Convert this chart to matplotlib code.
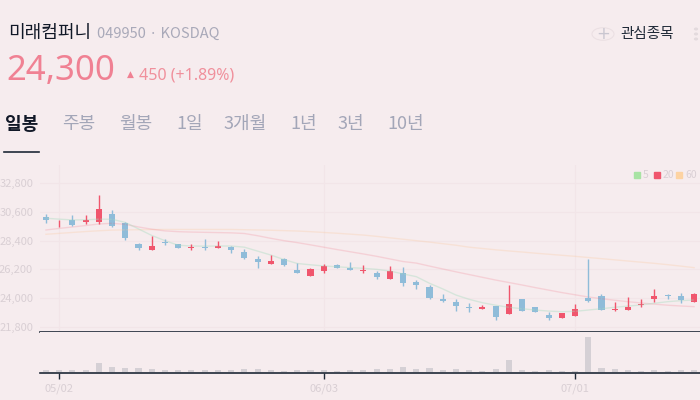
import matplotlib.pyplot as plt
from matplotlib.patches import Circle, Rectangle

plt.rcParams['font.family'] = ['Noto Sans CJK KR', 'DejaVu Sans']

# daily candles, 50 sessions
opens = [30200, 29800, 30010, 29860, 29860, 30450, 29750, 28140, 27680, 28300,
         28140, 27870, 27920, 27830, 27910, 27530, 27020, 26610, 27020, 26170,
         25710, 26070, 26530, 26330, 26070, 25920, 25460, 25920, 25210, 24850,
         23920, 23700, 23280, 23180, 23390, 22800, 23920, 23310, 22700, 22440,
         22620, 24000, 24180, 23080, 23080, 23450, 23930, 24220, 24160, 23720]
highs = [30450, 30000, 30370, 30370, 31900, 30750, 29830, 28220, 28780, 28500,
         28150, 28140, 28500, 28400, 28010, 27760, 27220, 27280, 27100, 26710,
         26280, 26610, 26610, 26760, 26530, 26070, 26460, 26360, 25380, 25000,
         24290, 23920, 23640, 23450, 23390, 25000, 23920, 23310, 22900, 22870,
         23540, 26990, 24340, 23700, 24080, 23900, 24670, 24340, 24360, 24420]
lows = [29780, 29470, 29530, 29700, 29700, 29450, 28470, 27680, 27680, 28070,
        27820, 27680, 27680, 27830, 27480, 26970, 26280, 26610, 26450, 25920,
        25660, 25920, 26300, 26170, 25940, 25460, 25460, 24950, 24720, 23920,
        23720, 23030, 22930, 23180, 22340, 22800, 23000, 22950, 22310, 22440,
        22620, 23720, 23080, 23000, 23080, 23330, 23700, 23930, 23640, 23720]
closes = [30000, 29850, 29600, 30010, 30830, 29550, 28630, 27840, 28010, 28220,
          27830, 27920, 27850, 28010, 27680, 27050, 26790, 26820, 26560, 25920,
          26220, 26480, 26300, 26170, 26130, 25640, 26050, 25170, 25000, 24030,
          23770, 23410, 23230, 23300, 22570, 23540, 23030, 22950, 22470, 22870,
          23160, 23770, 23080, 23160, 23310, 23510, 24160, 24160, 23850, 24300]
volumes = [8, 6, 6, 8, 30, 15, 12, 12, 11, 6,
           8, 6, 6, 6, 6, 9, 9, 6, 4, 6,
           6, 6, 4, 6, 6, 9, 9, 15, 9, 12,
           6, 9, 6, 4, 9, 38, 6, 4, 6, 4,
           4, 108, 12, 9, 8, 4, 8, 4, 6, 6]

ma5 = [30120, 30050, 29990, 30000, 30050, 30040, 29800, 29300, 28800, 28400,
       28050, 27990, 27980, 27990, 27990, 27900, 27600, 27300, 26950, 26650,
       26550, 26460, 26400, 26330, 26280, 26200, 26070, 25850, 25640, 25130,
       24700, 24230, 23900, 23640, 23450, 23290, 23180, 23080, 23000, 22950,
       22980, 23080, 23180, 23290, 23380, 23470, 23600, 23720, 23800, 23850]
ma20 = [29220, 29340, 29450, 29560, 29680, 29730, 29650, 29450, 29280, 29150,
        29090, 29060, 29040, 29020, 29000, 28950, 28780, 28580, 28400, 28250,
        28080, 27900, 27720, 27550, 27380, 27200, 27000, 26800, 26680, 26450,
        26230, 26010, 25800, 25590, 25380, 25190, 25000, 24800, 24610, 24420,
        24250, 24080, 23950, 23830, 23720, 23620, 23530, 23450, 23390, 23340]
ma60 = [28890, 28960, 29030, 29100, 29160, 29210, 29230, 29240, 29250, 29260,
        29260, 29260, 29260, 29260, 29260, 29240, 29220, 29200, 29170, 29140,
        29090, 29030, 28970, 28900, 28830, 28730, 28620, 28510, 28400, 28290,
        28170, 28050, 27900, 27800, 27700, 27610, 27530, 27440, 27360, 27280,
        27200, 27110, 27020, 26930, 26840, 26750, 26660, 26560, 26450, 26330]

price_ticks = [21800, 24000, 26200, 28400, 30600, 32800]
date_pos = [1, 21, 40]
date_labels = ['05/02', '06/03', '07/01']
tabs = ['일봉', '주봉', '월봉', '1일', '3개월', '1년', '3년', '10년']
tab_x = [5, 62, 119, 176, 224, 290, 338, 387]

bg = '#f6ecee'
up_col = '#f0566d'
down_col = '#8fbcd9'
light_txt = '#d9cfd4'
W, H = 700, 400

fig = plt.figure(figsize=(7, 4), dpi=100, facecolor=bg)

def px(x, y):
    return x / W, 1 - y / H

# header
fig.text(*px(8, 33), '미래컴퍼니', fontsize=13, color='#111827', va='center', fontweight='medium')
fig.text(*px(97, 34), '049950 · KOSDAQ', fontsize=10.5, color='#a9a9b9', va='center')
fig.text(*px(6, 71), '24,300', fontsize=25, color='#f08193', va='center',
         family=['Noto Sans', 'DejaVu Sans'])
fig.text(*px(127, 74), '▲', fontsize=6.5, color='#f08193', va='center', family='DejaVu Sans')
fig.text(*px(139, 76), '450 (+1.89%)', fontsize=11.5, color='#f0909c', va='center',
         family=['Noto Sans', 'DejaVu Sans'])
for t, x in zip(tabs, tab_x):
    if t == '일봉':
        fig.text(*px(x, 124), t, fontsize=13, color='#111827', va='center', fontweight='bold')
    else:
        fig.text(*px(x, 124), t, fontsize=13, color='#a3a6b8', va='center')
fig.add_artist(plt.Line2D([4 / W, 39 / W], [1 - 152 / H] * 2, color='#1f2937', lw=1.2))

fig.add_artist(Circle(px(603, 34), 11 / W, transform=fig.transFigure, fill=False,
                      ec='#ebe0e3', lw=0.8))
fig.text(*px(603, 34), '+', fontsize=12, color='#c9c6d0', ha='center', va='center',
         family='DejaVu Sans')
fig.text(*px(620, 34), '관심종목', fontsize=10.5, color='#1f2937', va='center')
for y in (29, 34, 39):
    fig.add_artist(Circle(px(696, y), 1.4 / W, transform=fig.transFigure, color='#e3dadd'))

# legend
for x, c, lab in [(634, '#a8e3a3', '5'), (654, up_col, '20'), (676, '#fdd3a2', '60')]:
    fig.add_artist(Rectangle(px(x, 178), 6 / W, 6 / H, transform=fig.transFigure, color=c))
    fig.text(*px(x + 9, 175), lab, fontsize=7.5, color=light_txt, va='center')

# price panel
ax = fig.add_axes([40 / W, 1 - 332 / H, 660 / W, (332 - 165) / H])
ax.set_facecolor(bg)
n = len(opens)
xs = list(range(n))
ax.plot(xs, ma60, color='#fbc9a0', lw=1, alpha=0.3)
ax.plot(xs, ma20, color=up_col, lw=1, alpha=0.18)
ax.plot(xs, ma5, color='#a8dcc0', lw=1, alpha=0.4)
for i in xs:
    c = up_col if closes[i] > opens[i] else down_col
    ax.vlines(i, lows[i], highs[i], color=c, lw=1)
    lo = min(opens[i], closes[i])
    h = max(abs(closes[i] - opens[i]), 70)
    ax.bar(i, h, bottom=lo, width=0.46, color=c)
ax.set_xlim(-0.45, n - 0.55)
ax.set_ylim(21395, 34204)
ax.set_yticks(price_ticks)
ax.set_yticklabels([f'{v:,}' for v in price_ticks])
ax.tick_params(axis='y', length=0, labelsize=8, labelcolor=light_txt, pad=5)
ax.set_xticks(date_pos)
ax.tick_params(axis='x', length=0, labelbottom=False)
ax.grid(True, color='#f2e5e8', lw=0.8)
ax.set_axisbelow(True)
for s in ['top', 'left', 'right']:
    ax.spines[s].set_visible(False)
ax.spines['bottom'].set_color('#1f2937')
ax.spines['bottom'].set_linewidth(1.2)

# volume panel
ax2 = fig.add_axes([40 / W, 1 - 373.3 / H, 660 / W, (373.3 - 332) / H])
ax2.set_facecolor(bg)
ax2.bar(xs, volumes, width=0.46, color='#d5d0d5')
ax2.set_xlim(-0.45, n - 0.55)
ax2.set_ylim(-3, 124)
ax2.set_yticks([])
ax2.set_xticks(date_pos)
ax2.set_xticklabels(date_labels)
ax2.tick_params(axis='x', length=4, width=1, color='#1f2937', labelsize=8,
                labelcolor=light_txt, pad=3)
for s in ['top', 'left', 'right']:
    ax2.spines[s].set_visible(False)
ax2.spines['bottom'].set_color('#1f2937')
ax2.spines['bottom'].set_linewidth(1.2)
ax2.spines['bottom'].set_position(('data', -3))

fig.savefig('out.png', dpi=100, facecolor=bg)
